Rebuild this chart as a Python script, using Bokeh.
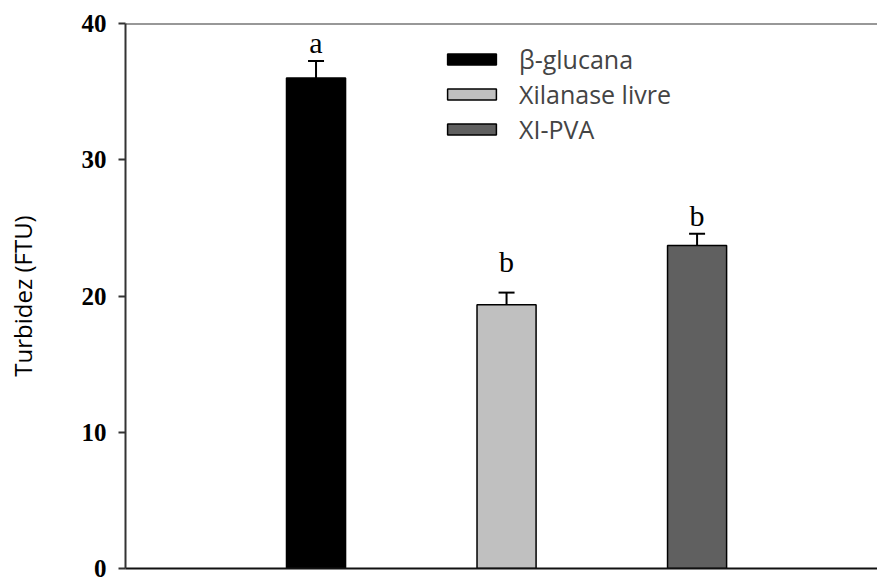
from bokeh.plotting import figure
from bokeh.models import (Range1d, FixedTicker, Whisker, TeeHead, ColumnDataSource,
                          Legend, LegendItem, Span)
from bokeh.core.properties import value
from bokeh.embed import file_html
from bokeh.resources import INLINE

# ---- data ----
categories = ["β-glucana", "Xilanase livre", "XI-PVA"]
positions = [1, 2, 3]
turbidity = [36.0, 19.35, 23.7]
errors = [1.25, 0.9, 0.87]
letters = ["a", "b", "b"]
letter_y = [38.6, 22.5, 25.9]
colors = ["#000000", "#c0c0c0", "#606060"]
y_ticks = [0, 10, 20, 30, 40]

upper = [v + e for v, e in zip(turbidity, errors)]
src = ColumnDataSource(dict(x=positions, top=turbidity, upper=upper,
                            color=colors, name=categories))

p = figure(width=877, height=577, output_backend="svg", toolbar_location=None,
           x_range=Range1d(0, 3.947), y_range=Range1d(0, 40),
           min_border_left=125, min_border_right=0, min_border_top=23,
           min_border_bottom=9)
p.outline_line_color = None
p.grid.visible = False
p.background_fill_color = "white"

renderers = []
for i in range(3):
    r = p.vbar(x=[positions[i]], top=[turbidity[i]], width=0.31,
               fill_color=colors[i], line_color="black", line_width=1.5)
    renderers.append(r)

wh = Whisker(source=src, base="x", upper="upper", lower="top", dimension="height",
             line_color="black", line_width=2,
             upper_head=TeeHead(size=16, line_color="black", line_width=2),
             lower_head=None, level="underlay")
p.add_layout(wh)

p.text(x=positions, y=letter_y, text=letters, text_align="center",
       text_baseline="middle", text_font=value("Liberation Serif"),
       text_font_size="30px", text_color="black")

# top border line
p.add_layout(Span(location=40, dimension="width", line_color="#333333", line_width=2))

# axes
yax = p.yaxis[0]
yax.ticker = FixedTicker(ticks=y_ticks)
yax.minor_tick_line_color = None
yax.major_tick_in = 0
yax.major_tick_out = 7
yax.major_tick_line_width = 2
yax.major_tick_line_color = "#333333"
yax.axis_line_width = 2
yax.axis_line_color = "#333333"
yax.major_label_text_font = "Liberation Serif"
yax.major_label_text_font_style = "bold"
yax.major_label_text_font_size = "25px"
yax.major_label_text_color = "black"
yax.major_label_standoff = 12
yax.axis_label = "Turbidez (FTU)"
yax.axis_label_text_font = "Open Sans"
yax.axis_label_text_font_style = "normal"
yax.axis_label_text_font_size = "24px"
yax.axis_label_text_color = "black"
yax.axis_label_standoff = 40

xax = p.xaxis[0]
xax.ticker = FixedTicker(ticks=[])
xax.minor_tick_line_color = None
xax.major_tick_line_color = None
xax.axis_line_width = 2
xax.axis_line_color = "#111111"

legend = Legend(items=[LegendItem(label=categories[i], renderers=[renderers[i]]) for i in range(3)],
                location=(316, 422), orientation="vertical",
                glyph_width=61, glyph_height=14, label_standoff=17,
                label_text_font="Open Sans", label_text_font_size="25px",
                label_height=28, spacing=1, padding=0, margin=0,
                border_line_color=None, background_fill_alpha=0)
p.add_layout(legend)

open("out.html", "w").write(file_html(p, INLINE))
